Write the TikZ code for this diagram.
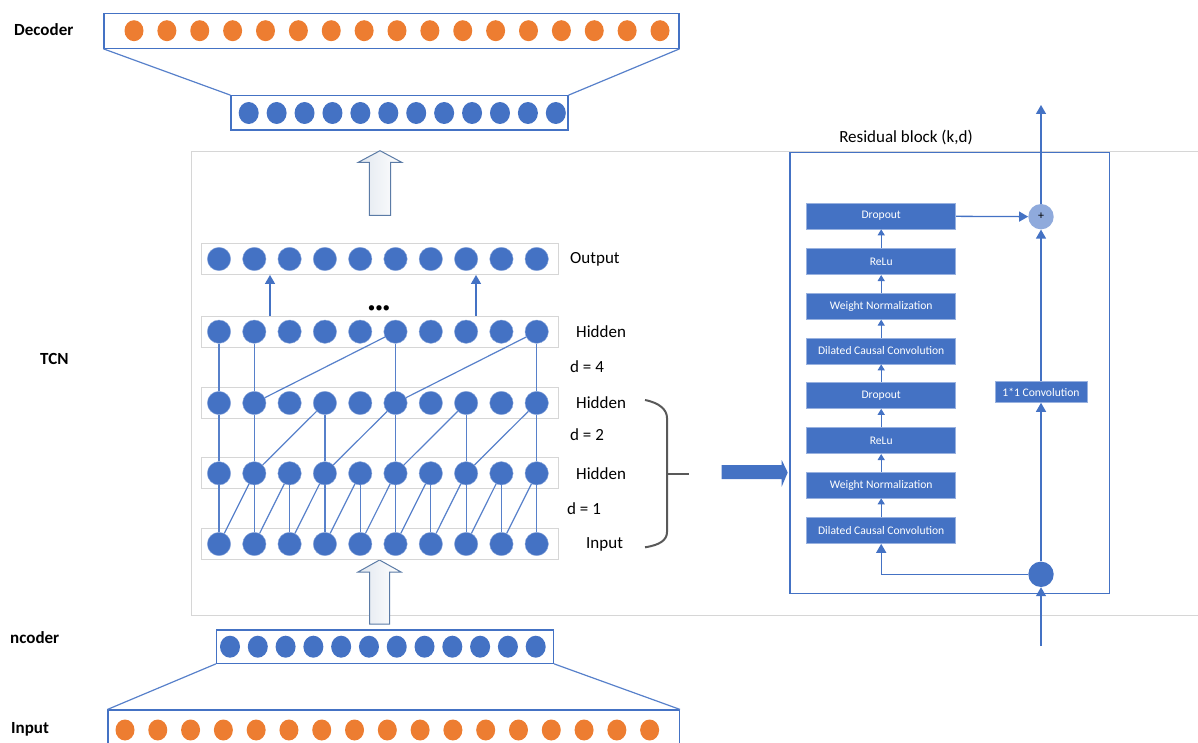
\documentclass[tikz,border=0pt]{standalone}
\usepackage{fontspec}
\setmainfont{Carlito}
\usetikzlibrary{arrows.meta,shapes.geometric,calc}
\definecolor{bM}{HTML}{4472C4}
\definecolor{oM}{HTML}{ED7D31}
\definecolor{pM}{HTML}{8FAADC}
\definecolor{gF}{HTML}{D6D6D6}
\definecolor{gB}{HTML}{595959}
\definecolor{hA}{HTML}{5B7BA6}
\definecolor{hF}{HTML}{E1E7EF}
\tikzset{
 orng/.style={ellipse, fill=oM, minimum width=19pt, minimum height=21pt, inner sep=0pt},
 blu/.style={ellipse, fill=bM, minimum width=20pt, minimum height=22pt, inner sep=0pt},
 tcnnode/.style={circle, fill=bM, draw=bM!60!white, line width=0.4pt, minimum size=23.4pt, inner sep=0pt},
 layerbox/.style={draw=gF, line width=0.9pt, fill=white, minimum width=357pt, minimum height=31pt, inner sep=0pt},
 emb/.style={draw=bM, line width=1.1pt, inner sep=0pt},
 conn/.style={draw=bM!90!white, line width=1.2pt},
 rbox/.style={fill=bM, draw=bM!55!white, line width=0.6pt, minimum width=149pt, minimum height=26pt, inner sep=0pt, text=white, font=\fontsize{11.6}{13}\selectfont},
 lbl/.style={font=\fontsize{17}{20}\selectfont, anchor=west, inner sep=0pt},
 blbl/.style={font=\fontsize{17}{20}\selectfont\bfseries, anchor=west, inner sep=0pt},
 sarr/.style={draw=bM, line width=1.1pt, -{Triangle[width=7pt,length=6pt]}},
 arr/.style={draw=bM, line width=1.3pt, -{Triangle[width=10pt,length=9pt]}},
 hollow/.style={draw=hA, line width=1pt, left color=hF, right color=white},
}
\begin{document}
\begin{tikzpicture}[x=1pt,y=-1pt]
\useasboundingbox (0,0) rectangle (1198,743);
\clip (0,0) rectangle (1198,743);
% TCN frame
\draw[gF, line width=1pt] (1198,151.5) -- (191,151.5) -- (191,615) -- (1198,615);
% left labels
\node[blbl] (lDec) at (14,30) {Decoder};
\node[blbl] (lTCN) at (40,359) {TCN};
\node[blbl] (lEnc) at (10,638) {ncoder};
\node[blbl] (lIn) at (11,729) {Input};
% decoder
\node[emb, minimum width=575pt, minimum height=34.8pt] (dec) at (391.5,30.9) {};
\foreach \k in {0,...,16} \node[orng] (do\k) at ({134+32.875*\k},30.7) {};
\node[emb, minimum width=337pt, minimum height=34.3pt] (lat) at (399.5,112.85) {};
\foreach \k in {0,...,11} \node[blu] (lt\k) at ({248.7+27.92*\k},113) {};
\draw[conn] (dec.south west) -- (lat.north west);
\draw[conn] (dec.south east) -- (lat.north east);
% encoder
\node[emb, minimum width=337pt, minimum height=33.3pt] (encb) at (385,646.65) {};
\foreach \k in {0,...,11} \node[blu] (eb\k) at ({230+27.79*\k},646.7) {};
\node[emb, minimum width=571.5pt, minimum height=50pt] (inb) at (393.75,735) {};
\foreach \k in {0,...,16} \node[orng] (io\k) at ({125+32.79*\k},730) {};
\draw[conn] (encb.south west) -- (inb.north west);
\draw[conn] (encb.south east) -- (inb.north east);
% hollow arrows
\draw[hollow] (380,150.7) -- (401.7,162.3) -- (390.7,162.3) -- (390.7,215.3) -- (369.3,215.3) -- (369.3,162.3) -- (358.3,162.3) -- cycle;
\draw[hollow] (379.5,560) -- (401,572) -- (389.5,572) -- (389.5,624) -- (369.5,624) -- (369.5,572) -- (358,572) -- cycle;
% TCN layers
\foreach \r/\y in {O/259,P/331.7,Q/403,R/473.3,S/544} {
  \node[layerbox] (box\r) at (379.5,\y) {};
  \foreach \k in {1,...,10} \node[tcnnode] (\r\k) at ({219+35.3*(\k-1)},\y) {};
}
% d = 1
\foreach \k in {1,...,10} \draw[conn] (S\k) -- (R\k);
\foreach \k/\n in {1/2,2/3,3/4,4/5,5/6,6/7,7/8,8/9,9/10} \draw[conn] (S\k) -- (R\n);
% d = 2
\foreach \k in {1,2,4,6,8,10} \draw[conn] (R\k) -- (Q\k);
\foreach \k/\n in {2/4,4/6,6/8,8/10} \draw[conn] (R\k) -- (Q\n);
% d = 4
\foreach \k in {1,2,6,10} \draw[conn] (Q\k) -- (P\k);
\foreach \k/\n in {2/6,6/10} \draw[conn] (Q\k) -- (P\n);
% to output
\coordinate (oa) at (270,0);
\coordinate (ob) at (476,0);
\draw[arr] (boxP.north -| oa) -- (boxO.south -| oa);
\draw[arr] (boxP.north -| ob) -- (boxO.south -| ob);
\node[font=\fontsize{15}{15}\selectfont, inner sep=0pt] (dots) at (379,309) {•••};
% TCN labels
\node[lbl] (tOut) at (570,259) {Output};
\node[lbl] (tH3) at (576,331.7) {Hidden};
\node[lbl] (tD4) at (570,366.7) {d = 4};
\node[lbl] (tH2) at (576,403) {Hidden};
\node[lbl] (tD2) at (570,435) {d = 2};
\node[lbl] (tH1) at (576,473.3) {Hidden};
\node[lbl] (tD1) at (567,509) {d = 1};
\node[lbl] (tIn) at (586,544) {Input};
% brace
\draw[gB, line width=2pt] (645,400) .. controls (660,403) and (667,410) .. (667,418) -- (667,532) .. controls (667,540) and (660,545) .. (645,547.3);
\draw[gB, line width=2pt] (667,474.3) -- (689.3,474.3);
% big arrow
\fill[bM] (721.7,465) -- (781.7,465) -- (781.7,460) -- (787.7,472.5) -- (781.7,486.7) -- (781.7,479) -- (721.7,479) -- cycle;
% residual block
\node[draw=bM, line width=1.3pt, minimum width=319.3pt, minimum height=440.6pt, inner sep=0pt] (rb) at (949.65,373) {};
\node[font=\fontsize{17}{20}\selectfont, inner sep=0pt] (rbt) at (906,137) {Residual block (k,d)};
\node[rbox] (dp1) at (881.2,216) {Dropout};
\node[rbox] (rl1) at (881.2,261.7) {ReLu};
\node[rbox] (wn1) at (881.2,306.3) {Weight Normalization};
\node[rbox] (dc1) at (881.2,351) {Dilated Causal Convolution};
\node[rbox] (dp2) at (881.2,395.5) {Dropout};
\node[rbox] (rl2) at (881.2,440.7) {ReLu};
\node[rbox] (wn2) at (881.2,485) {Weight Normalization};
\node[rbox] (dc2) at (881.2,530.5) {Dilated Causal Convolution};
\draw[sarr] (dc2) -- (wn2);
\draw[sarr] (wn2) -- (rl2);
\draw[sarr] (rl2) -- (dp2);
\draw[sarr] (dp2) -- (dc1);
\draw[sarr] (dc1) -- (wn1);
\draw[sarr] (wn1) -- (rl1);
\draw[sarr] (rl1) -- (dp1);
\node[circle, fill=pM, minimum size=25.4pt, inner sep=0pt, font=\fontsize{12}{12}\selectfont] (plus) at (1041,216.7) {+};
\node[circle, fill=bM, minimum size=25.4pt, inner sep=0pt] (split) at (1041,574.3) {};
\node[rbox, minimum width=92pt, minimum height=21pt] (conv) at (1041,392) {1*1 Convolution};
\coordinate (resout) at (1041,105);
\coordinate (resin) at (1041,646);
\draw[arr] (dp1) -- (plus);
\draw[arr] (conv) -- (plus);
\draw[arr] (split) -- (conv);
\draw[arr] (split.west) -- (dc2 |- split) -- (dc2.south);
\draw[arr] (resin) -- (split);
\draw[arr] (plus) -- (resout);
\end{tikzpicture}
\end{document}
